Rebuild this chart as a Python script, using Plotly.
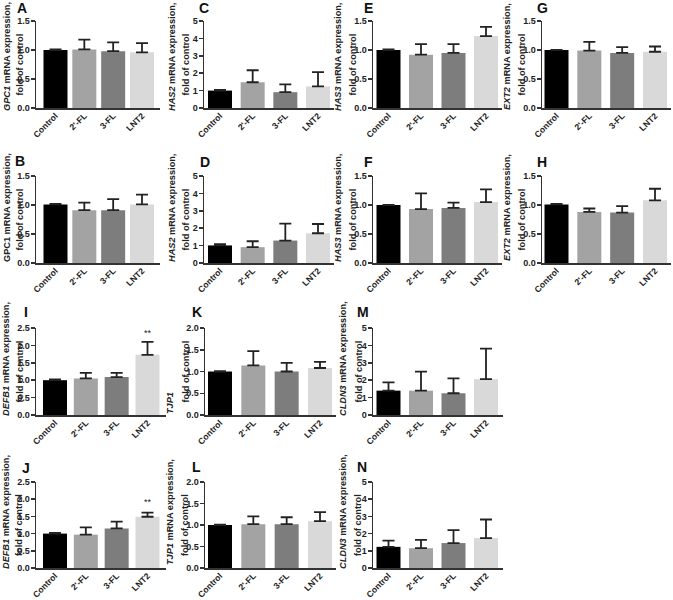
import plotly.graph_objects as go

W, H = 673, 600

categories = ["Control", "2'-FL", "3-FL", "LNT2"]
bar_colors = ["#000000", "#a3a3a3", "#7d7d7d", "#d9d9d9"]

# means and upper error-bar ends (fold of control)
A_mean = [1.00, 1.01, 0.98, 0.96]; A_top = [1.01, 1.18, 1.13, 1.12]
B_mean = [1.01, 0.91, 0.91, 1.01]; B_top = [1.02, 1.04, 1.10, 1.18]
C_mean = [1.00, 1.48, 0.91, 1.24]; C_top = [1.04, 2.17, 1.36, 2.06]
D_mean = [1.01, 0.91, 1.29, 1.71]; D_top = [1.08, 1.25, 2.26, 2.24]
E_mean = [1.00, 0.92, 0.95, 1.24]; E_top = [1.01, 1.10, 1.10, 1.40]
F_mean = [1.00, 0.93, 0.95, 1.05]; F_top = [1.00, 1.20, 1.04, 1.27]
G_mean = [1.00, 0.99, 0.95, 0.97]; G_top = [1.00, 1.14, 1.05, 1.06]
H_mean = [1.01, 0.88, 0.87, 1.08]; H_top = [1.02, 0.94, 0.98, 1.28]
I_mean = [1.00, 1.05, 1.09, 1.73]; I_top = [1.02, 1.21, 1.21, 2.10]
J_mean = [1.00, 0.97, 1.15, 1.49]; J_top = [1.02, 1.18, 1.35, 1.61]
K_mean = [1.00, 1.14, 1.00, 1.08]; K_top = [1.01, 1.47, 1.20, 1.22]
L_mean = [1.00, 1.02, 1.02, 1.09]; L_top = [1.01, 1.20, 1.18, 1.30]
M_mean = [1.40, 1.40, 1.25, 2.06]; M_top = [1.87, 2.49, 2.11, 3.81]
N_mean = [1.23, 1.15, 1.45, 1.74]; N_top = [1.59, 1.63, 2.20, 2.82]

genes = {"A": "<i>GPC1</i>", "B": "GPC1", "C": "<i>HAS2</i>", "D": "<i>HAS2</i>",
         "E": "<i>HAS3</i>", "F": "<i>HAS3</i>", "G": "<i>EXT2</i>", "H": "<i>EXT2</i>",
         "I": "<i>DEFB1</i>", "J": "<i>DEFB1</i>", "K": "<i>TJP1</i>", "L": "<i>TJP1</i>",
         "M": "<i>CLDN3</i>", "N": "<i>CLDN3</i>"}
ymax = {"A": 1.5, "B": 1.5, "C": 5, "D": 5, "E": 1.5, "F": 1.5, "G": 1.5, "H": 1.5,
        "I": 2.5, "J": 2.5, "K": 2.0, "L": 2.0, "M": 5, "N": 5}
stars = {"E": "*", "I": "**", "J": "**"}
star_y = {"E": 1.6, "I": 2.36, "J": 1.92}

data = {"A": (A_mean, A_top), "B": (B_mean, B_top), "C": (C_mean, C_top), "D": (D_mean, D_top),
        "E": (E_mean, E_top), "F": (F_mean, F_top), "G": (G_mean, G_top), "H": (H_mean, H_top),
        "I": (I_mean, I_top), "J": (J_mean, J_top), "K": (K_mean, K_top), "L": (L_mean, L_top),
        "M": (M_mean, M_top), "N": (N_mean, N_top)}

# layout (pixels)
rows_y = {1: (21, 108), 2: (176, 263), 3: (328, 415), 4: (482, 568)}
title1_cy = {1: 57, 2: 208, 3: 359, 4: 512}
cols_top = {1: (36, 160, 55.5, 142), 2: (204, 334, 220, 318), 3: (373, 502, 388.5, 486), 4: (542, 671, 556.5, 655)}
cols_bot = {1: (36, 166, 55, 147.5), 2: (205, 336, 220, 320), 3: (373, 503, 388.5, 486)}
place = {"A": (1, 1), "C": (1, 2), "E": (1, 3), "G": (1, 4),
         "B": (2, 1), "D": (2, 2), "F": (2, 3), "H": (2, 4),
         "I": (3, 1), "K": (3, 2), "M": (3, 3),
         "J": (4, 1), "L": (4, 2), "N": (4, 3)}
letter_pos = {"A": (15, 8), "C": (197, 8), "E": (362, 8), "G": (535, 8),
              "B": (13, 161), "D": (198, 162), "F": (362, 162), "H": (535, 162),
              "I": (22, 312), "K": (190, 312), "M": (355, 312),
              "J": (20, 468), "L": (190, 467), "N": (355, 467)}
title_x = {1: (7, 19), 2: (172, 185), 3: (338, 352), 4: (507, 521)}
title_x_bot = {1: (6, 19), 2: (170, 185), 3: (343, 358)}


def fx(p):
    return p / W


def fy(p):
    return 1 - p / H


TXT = "#222222"
FONT = "Liberation Sans, Arial, sans-serif"

fig = go.Figure()
layout = {}
annotations = []

for idx, key in enumerate(["A", "C", "E", "G", "B", "D", "F", "H", "I", "K", "M", "J", "L", "N"], start=1):
    r, c = place[key]
    top, bot = rows_y[r]
    L, R, c0, c3 = (cols_top if r <= 2 else cols_bot)[c]
    step = (c3 - c0) / 3
    lo = -(c0 - L) / step
    hi = 3 + (R - c3) / step
    bw = 24 / step
    mean, tp = data[key]
    xn = "x" if idx == 1 else f"x{idx}"
    yn = "y" if idx == 1 else f"y{idx}"
    fig.add_trace(go.Bar(
        x=categories, y=mean, width=bw, xaxis=xn, yaxis=yn,
        marker=dict(color=bar_colors, line=dict(width=0)),
        error_y=dict(type="data", symmetric=False,
                     array=[t - m for t, m in zip(tp, mean)], arrayminus=[0] * 4,
                     color=TXT, thickness=1.8, width=6),
        showlegend=False, hoverinfo="skip"))
    ym = ymax[key]
    dt = 1 if ym == 5 else 0.5
    fmt = "d" if ym == 5 else ".1f"
    layout["xaxis" if idx == 1 else f"xaxis{idx}"] = dict(
        domain=[fx(L), fx(R)], anchor=yn, range=[lo, hi], type="category", automargin=False,
        showline=True, linecolor="#333", linewidth=1.5, ticks="", showgrid=False, zeroline=False,
        tickangle=-45, ticklabelstandoff=-2,
        tickfont=dict(family=FONT, size=8.6, color=TXT, weight="bold"))
    layout["yaxis" if idx == 1 else f"yaxis{idx}"] = dict(
        domain=[fy(bot), fy(top)], anchor=xn, range=[0, ym], dtick=dt, tickformat=fmt,
        automargin=False, ticklabelstandoff=-1,
        showline=True, linecolor="#333", linewidth=1.5, ticks="outside", ticklen=4,
        tickwidth=1.5, tickcolor="#333", showgrid=False, zeroline=False,
        tickfont=dict(family=FONT, size=9, color=TXT, weight="bold"))
    # panel letter
    lx, ly = letter_pos[key]
    annotations.append(dict(text=f"<b>{key}</b>", x=fx(lx), y=fy(ly), xref="paper", yref="paper",
                            xanchor="left", yanchor="middle", showarrow=False,
                            font=dict(family=FONT, size=14, color="#111")))
    # y titles
    tx1, tx2 = (title_x if r <= 2 else title_x_bot)[c]
    if key == "K":
        annotations.append(dict(text=f"<b>{genes[key]}</b>", x=fx(tx1), y=fy(403), xref="paper",
                                yref="paper", xanchor="center", yanchor="middle", textangle=-90,
                                showarrow=False, font=dict(family=FONT, size=9.2, color=TXT)))
    else:
        annotations.append(dict(text=f"<b>{genes[key]} mRNA expression,</b>", x=fx(tx1),
                                y=fy(title1_cy[r]), xref="paper", yref="paper",
                                xanchor="center", yanchor="middle", textangle=-90, showarrow=False,
                                font=dict(family=FONT, size=9.2, color=TXT)))
    annotations.append(dict(text="<b>fold of control</b>", x=fx(tx2), y=fy((top + bot) / 2),
                            xref="paper", yref="paper", xanchor="center", yanchor="middle",
                            textangle=-90, showarrow=False,
                            font=dict(family=FONT, size=9.2, color=TXT)))
    if key in stars:
        annotations.append(dict(text=stars[key], x=3, y=star_y[key], xref=xn, yref=yn,
                                showarrow=False, xanchor="center", yanchor="middle",
                                font=dict(family=FONT, size=9, color=TXT)))

fig.update_layout(**layout)
fig.update_layout(template="none", width=W, height=H, margin=dict(l=0, r=0, t=0, b=0),
                  paper_bgcolor="white", plot_bgcolor="white", annotations=annotations,
                  font=dict(family=FONT), showlegend=False, hovermode=False)
fig.write_html("out.html", config={"displayModeBar": False, "staticPlot": True},
               post_script="document.body.style.margin='0';document.body.style.overflow='hidden';")
